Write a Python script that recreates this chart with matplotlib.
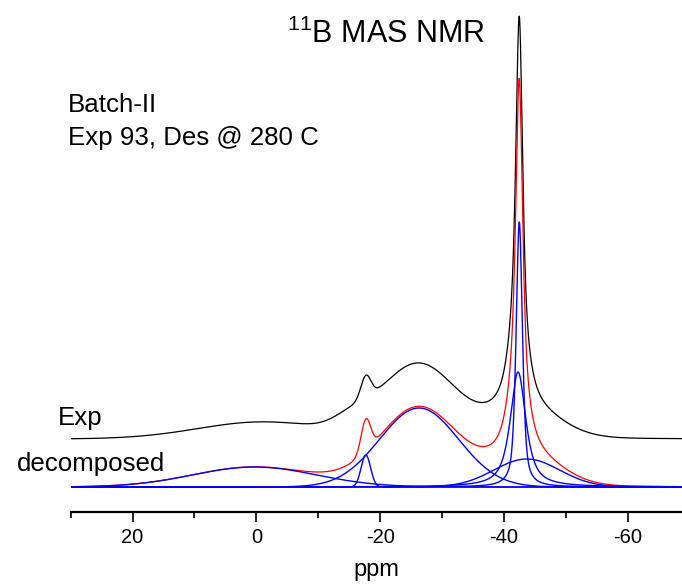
import numpy as np
import matplotlib
matplotlib.use('Agg')
import matplotlib.pyplot as plt

plt.rcParams['font.family'] = ['Liberation Sans', 'DejaVu Sans']
plt.rcParams['mathtext.fontset'] = 'custom'
plt.rcParams['mathtext.rm'] = 'Liberation Sans'
plt.rcParams['axes.unicode_minus'] = False

# decomposed lines (blue): centre (ppm), height, fwhm (ppm), lorentz fraction
fit_center = [0.3, -17.7, -26.3, -43.7, -42.3, -42.5]
fit_height = [20, 32, 79, 28, 115, 265]
fit_fwhm   = [23.5, 1.8, 15.0, 12.5, 3.0, 1.2]
fit_eta    = [0.0, 0.0, 0.0, 0.0, 0.8, 0.6]

# experimental trace (black), same kind of parameters + offset
exp_offset = 48
exp_center = [-1.0, -15.5, -17.7, -26.2, -43.7, -42.3, -42.5]
exp_height = [17, 10, 22, 74, 26, 115, 282]
exp_fwhm   = [24.7, 7.0, 1.9, 14.6, 12.5, 3.0, 1.2]
exp_eta    = [0.0, 0.0, 0.0, 0.0, 0.0, 0.8, 0.6]

major_ticks = [20, 0, -20, -40, -60]
minor_ticks = [30, 10, -10, -30, -50]


def pvoigt(x, c, h, w, eta):
    g = np.exp(-4 * np.log(2) * ((x - c) / w) ** 2)
    l = 1.0 / (1.0 + 4 * ((x - c) / w) ** 2)
    return h * (eta * l + (1 - eta) * g)


ppm = np.linspace(30, -68.8, 5000)

comps = [pvoigt(ppm, c, h, w, e) for c, h, w, e in zip(fit_center, fit_height, fit_fwhm, fit_eta)]
fit_sum = np.sum(comps, axis=0)
exp_trace = exp_offset + np.sum([pvoigt(ppm, c, h, w, e) for c, h, w, e in
                                 zip(exp_center, exp_height, exp_fwhm, exp_eta)], axis=0)

W, H = 682, 584
fig = plt.figure(figsize=(W / 100, H / 100), dpi=100)
ax = fig.add_axes([70.75 / W, 72 / H, 1 - 70.75 / W, 512 / H])

ax.plot(ppm, exp_trace, color='black', lw=0.9)
ax.plot(ppm, fit_sum, color='red', lw=0.9)
for comp in comps:
    ax.plot(ppm, comp, color='blue', lw=1.0)

ax.set_xlim(30, -68.8)
ax.set_ylim(-25, 487)

for s in ['left', 'right', 'top']:
    ax.spines[s].set_visible(False)
ax.spines['bottom'].set_linewidth(1.6)
ax.set_yticks([])
ax.set_xticks(major_ticks)
ax.set_xticks(minor_ticks, minor=True)
ax.tick_params(axis='x', which='major', length=7.5, width=1.2, labelsize=14.5, pad=4)
ax.tick_params(axis='x', which='minor', length=4, width=1.2)
ax.set_xlabel('ppm', fontsize=17, labelpad=9)


def ftext(x, y, s, size):
    fig.text(x / W, 1 - y / H, s, fontsize=size, va='baseline', ha='left')


ftext(287, 43, r'$\mathregular{^{11}}$B MAS NMR', 22)
ftext(68, 112, 'Batch-II', 18.6)
ftext(68, 145, 'Exp 93, Des @ 280 C', 18.6)
ftext(58, 425, 'Exp', 18.6)
ftext(17, 471, 'decomposed', 18.6)

fig.savefig('out.png', dpi=100)
